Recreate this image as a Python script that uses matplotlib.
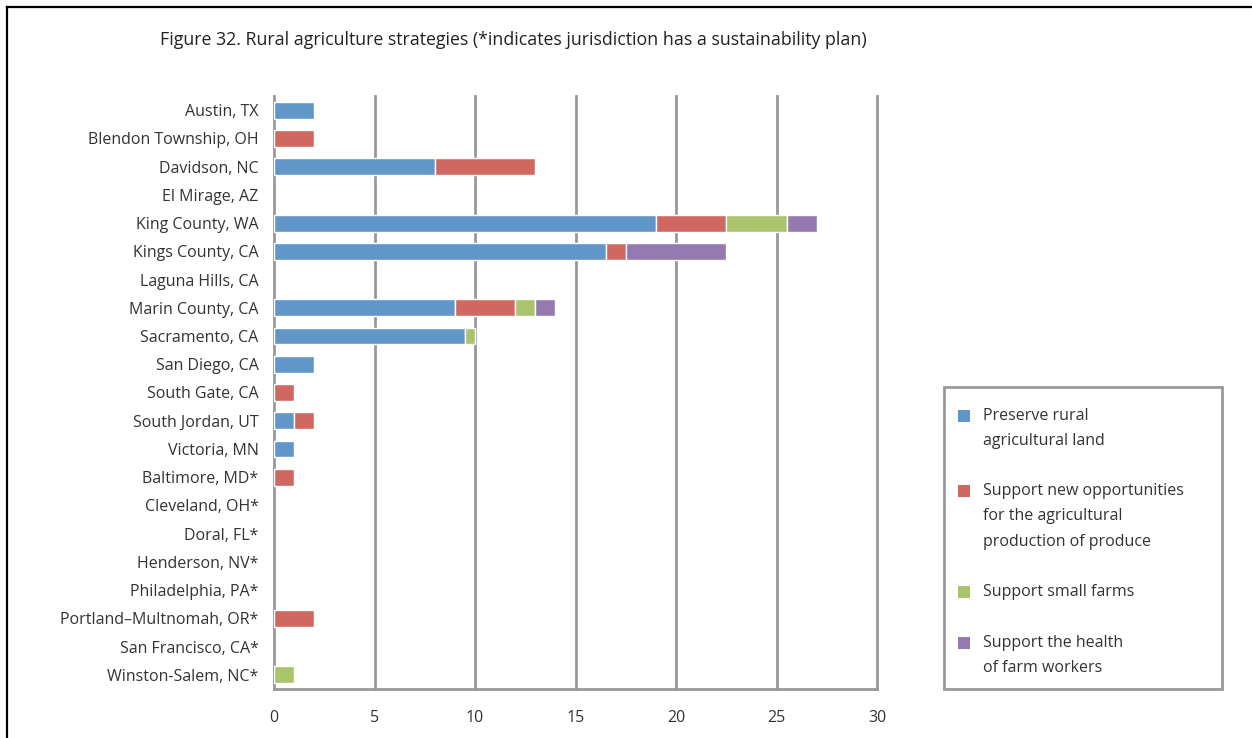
import matplotlib
matplotlib.use("Agg")
import matplotlib.pyplot as plt
from matplotlib.lines import Line2D
from matplotlib.patches import Rectangle
import numpy as np

plt.rcParams['font.family'] = ['Open Sans', 'DejaVu Sans']

categories = ["Austin, TX", "Blendon Township, OH", "Davidson, NC", "El Mirage, AZ",
              "King County, WA", "Kings County, CA", "Laguna Hills, CA", "Marin County, CA",
              "Sacramento, CA", "San Diego, CA", "South Gate, CA", "South Jordan, UT",
              "Victoria, MN", "Baltimore, MD*", "Cleveland, OH*", "Doral, FL*",
              "Henderson, NV*", "Philadelphia, PA*", "Portland\u2013Multnomah, OR*",
              "San Francisco, CA*", "Winston-Salem, NC*"]

preserve_land = [2, 0, 8, 0, 19, 16.5, 0, 9, 9.5, 2, 0, 1, 1, 0, 0, 0, 0, 0, 0, 0, 0]
new_opportunities = [0, 2, 5, 0, 3.5, 1, 0, 3, 0, 0, 1, 1, 0, 1, 0, 0, 0, 0, 2, 0, 0]
small_farms = [0, 0, 0, 0, 3, 0, 0, 1, 0.5, 0, 0, 0, 0, 0, 0, 0, 0, 0, 0, 0, 1]
farm_worker_health = [0, 0, 0, 0, 1.5, 5, 0, 1, 0, 0, 0, 0, 0, 0, 0, 0, 0, 0, 0, 0, 0]

series_names = ["Preserve rural\nagricultural land",
                "Support new opportunities\nfor the agricultural\nproduction of produce",
                "Support small farms",
                "Support the health\nof farm workers"]
colors = ["#6096C8", "#D06862", "#A9C46C", "#957AB1"]
x_ticks = [0, 5, 10, 15, 20, 25, 30]

W, H = 1252, 738
fig = plt.figure(figsize=(W / 100, H / 100), dpi=100)

# outer frame (left + top)
fig.add_artist(Line2D([7 / W, 7 / W], [0, 1 - 7 / H], color="black", lw=1.6))
fig.add_artist(Line2D([7 / W, 1], [1 - 7 / H, 1 - 7 / H], color="black", lw=1.6))

ax = fig.add_axes([274 / W, 1 - 689 / H, (877 - 274) / W, (689 - 96) / H])

y = np.arange(len(categories))
left = np.zeros(len(categories))
for vals, c in zip([preserve_land, new_opportunities, small_farms, farm_worker_health], colors):
    v = np.array(vals, dtype=float)
    m = v > 0
    ax.barh(y[m], v[m], left=left[m], height=0.6, color=c, edgecolor="white",
            linewidth=1.0, zorder=3)
    left += v

ax.set_ylim(len(categories) - 0.5, -0.5)
ax.set_xlim(0, 30)
ax.set_xticks(x_ticks)
ax.set_xticklabels([str(t) for t in x_ticks], fontsize=11.5, color="#333333")
ax.set_yticks(y)
ax.set_yticklabels(categories, fontsize=11.5, color="#333333")
ax.tick_params(axis="y", length=0, pad=11)
ax.tick_params(axis="x", length=0, pad=15)
ax.grid(False)
for t in x_ticks[1:]:
    ax.axvline(t, color="#999999", linewidth=2, zorder=0, clip_on=False)
for s in ["top", "right"]:
    ax.spines[s].set_visible(False)
for s in ["left", "bottom"]:
    ax.spines[s].set_color("#999999")
    ax.spines[s].set_linewidth(2)

fig.text(160 / W, 1 - 40 / H,
         "Figure 32. Rural agriculture strategies (*indicates jurisdiction has a sustainability plan)",
         fontsize=12.8, color="#222222", va="center", ha="left")

# legend box
fig.add_artist(Rectangle((944 / W, 1 - 689 / H), (1222 - 944) / W, (689 - 387) / H,
                         transform=fig.transFigure, facecolor="white",
                         edgecolor="#999999", linewidth=2))
first_line_y = [416, 491, 592, 643]
line_step = 25.5
msz = 12
for name, c, y0 in zip(series_names, colors, first_line_y):
    fig.add_artist(Rectangle(((958) / W, 1 - (y0 + msz / 2) / H), msz / W, msz / H,
                             transform=fig.transFigure, facecolor=c, edgecolor="none"))
    for i, line in enumerate(name.split("\n")):
        fig.text(983 / W, 1 - (y0 + i * line_step) / H, line, fontsize=11.5,
                 color="#333333", va="center", ha="left")

fig.savefig("out.png", dpi=100)
